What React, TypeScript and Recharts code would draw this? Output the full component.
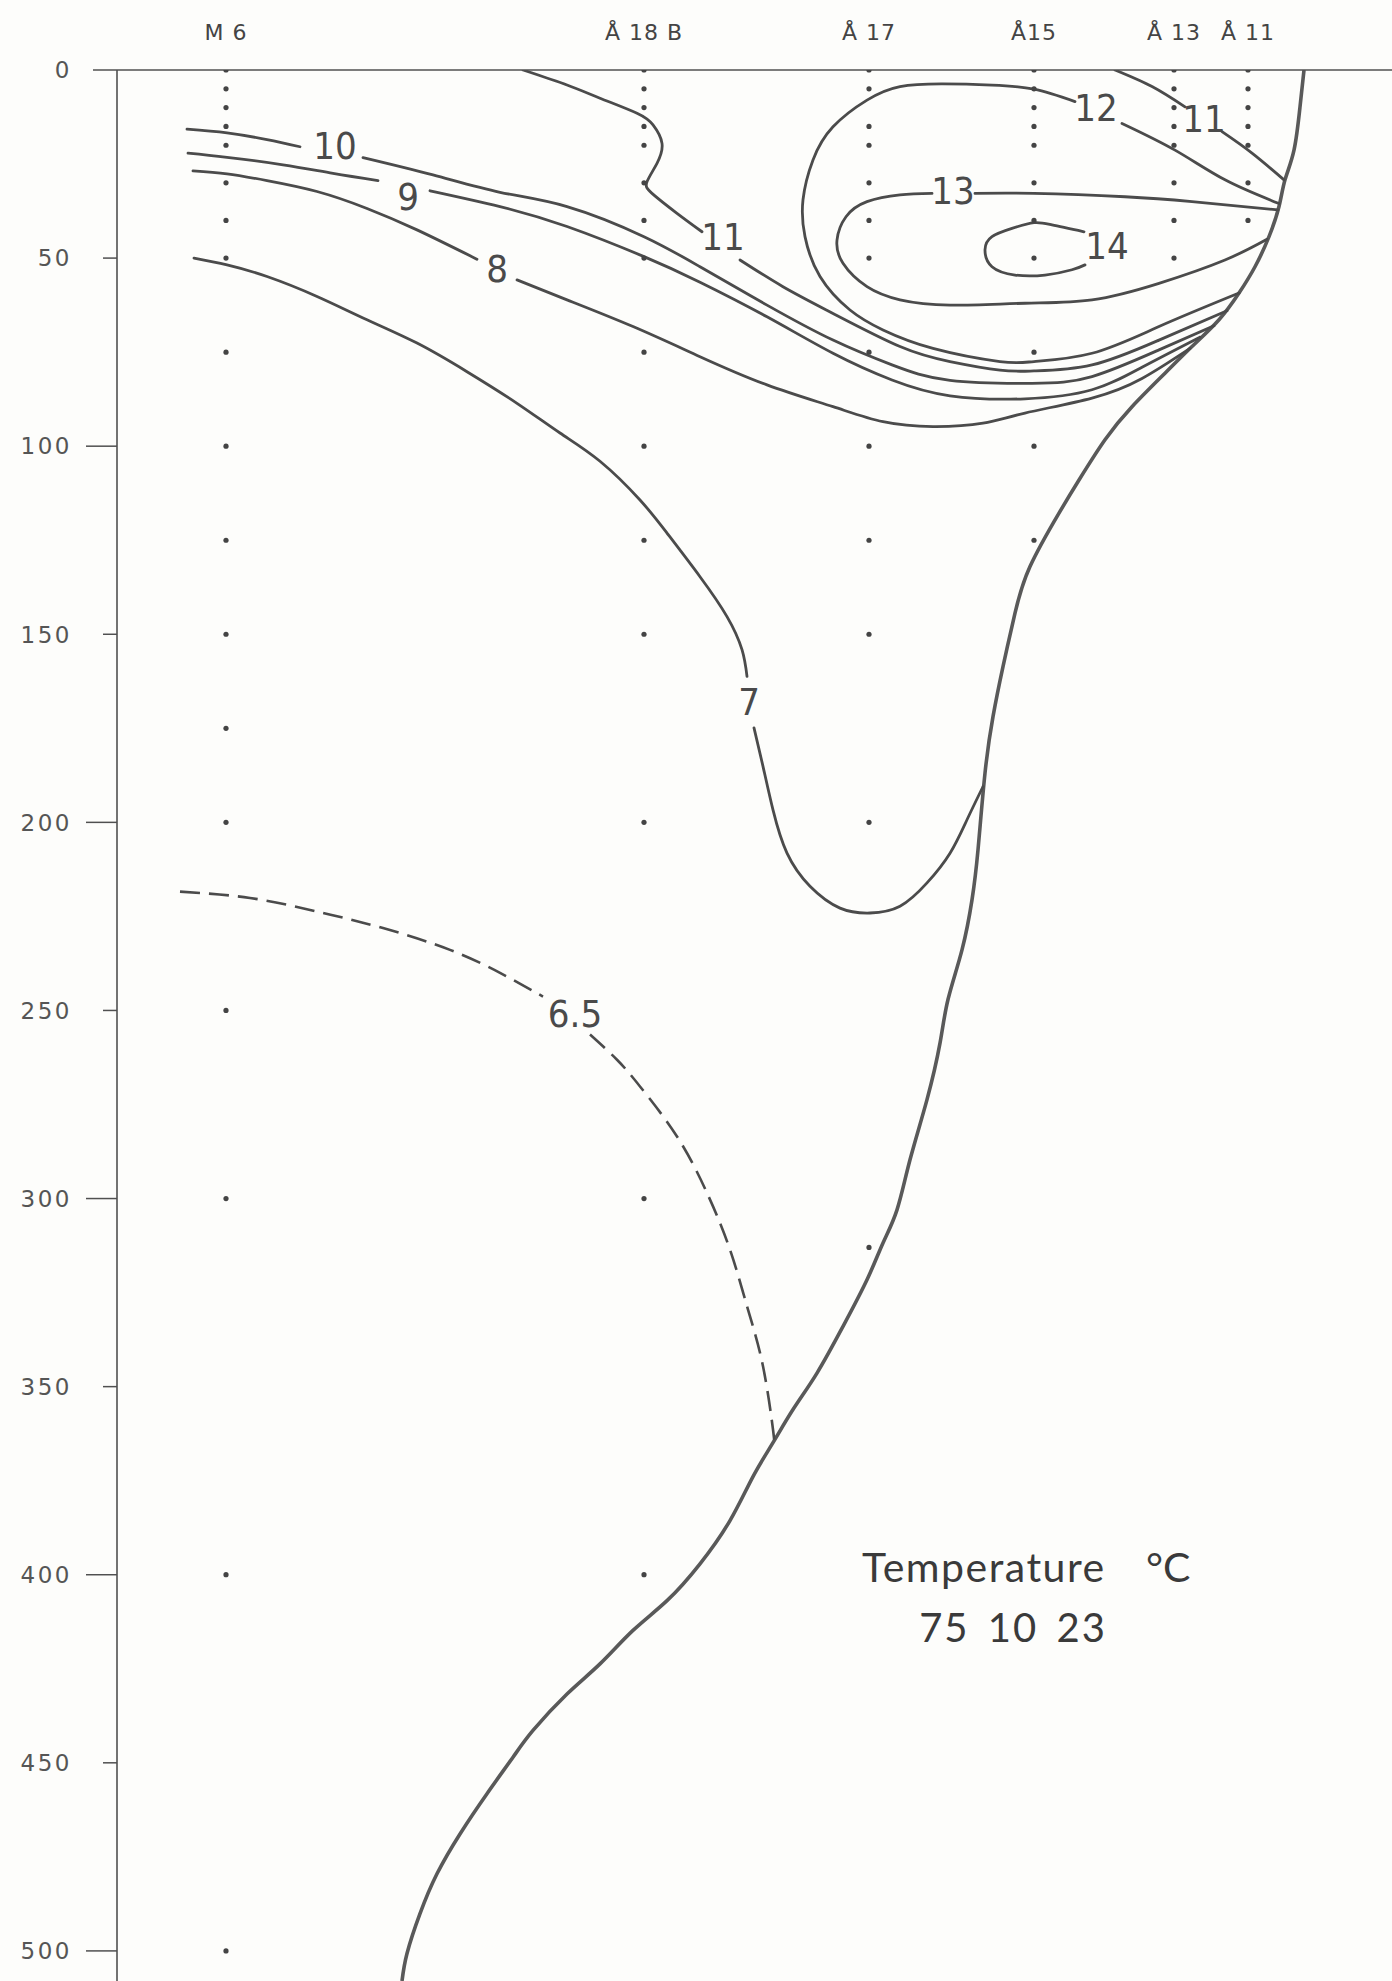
import { ComposedChart, Line, Scatter, XAxis, YAxis } from 'recharts';

// station positions (km along section) and names
const STATION_NAMES = ['M 6', 'Å 18 B', 'Å 17', 'Å15', 'Å 13', 'Å 11'];
const STATION_X = [10.9, 52.7, 75.2, 91.7, 105.7, 113.1];
const STATION_DEPTHS = [
  [0, 5, 10, 15, 20, 30, 40, 50, 75, 100, 125, 150, 175, 200, 250, 300, 400, 500],
  [0, 5, 10, 15, 20, 30, 40, 50, 75, 100, 125, 150, 200, 300, 400],
  [0, 5, 15, 20, 30, 40, 50, 75, 100, 125, 150, 200, 313],
  [0, 5, 10, 15, 20, 30, 40, 50, 75, 100, 125],
  [0, 5, 10, 15, 20, 30, 40, 50],
  [0, 5, 10, 15, 20, 30, 40],
];
const DEPTH_TICKS = [0, 50, 100, 150, 200, 250, 300, 350, 400, 450, 500];

// sea floor
const BOTTOM = [
  [118.7, 0], [118.3, 9.8], [117.7, 21.3], [116.8, 29.2], [116.2, 36.3], [115.2, 44.3], [113.8, 52.3],
  [112.2, 59.3], [110.2, 66.4], [107.5, 73.5], [104.8, 80.6], [101.5, 89.5], [98.8, 98.3], [96.2, 109],
  [94.2, 117.8], [91.3, 132], [89.8, 144.4], [88.6, 158.6], [87.6, 171.9], [86.8, 186.9], [86.1, 207.3],
  [85.5, 220.6], [84.5, 233.9], [83.1, 247.1], [82.3, 258.7], [81, 273.7], [79.3, 289.7], [78, 303],
  [76.6, 311.8], [75, 321.6], [72.6, 334], [70, 346.4], [67.6, 356.1], [65.6, 364.9], [63.6, 373.9],
  [61.3, 385.6], [58.3, 397.1], [55, 406.9], [51.6, 414.8], [48.3, 423.7], [45, 431.7], [41.6, 441.4],
  [39.6, 448.5], [37, 458.2], [34.3, 468.9], [32, 479.5], [30.3, 490.1], [29, 500.7], [28.5, 508],
];

// isotherms, split where the label sits
const T14 = [
  [96.7, 43], [93.5, 41.2], [91.7, 40.6], [89.5, 42.1], [87.5, 44.3], [86.8, 47.8], [87.5, 52.3],
  [89.8, 54.5], [92.8, 54.5], [95.5, 53.1], [96.8, 51.8],
];
const T13_A = [
  [81.5, 32.8], [78.3, 33.2], [75, 35], [72.9, 39], [72, 45.2], [72.6, 51.4], [75, 57.6], [78.3, 61.1],
  [83.3, 62.5], [90.8, 62], [97.5, 61.1], [104.2, 56.7], [110.8, 50.5], [115, 45],
];
const T13_B = [[85.8, 32.8], [91.7, 32.8], [100.8, 33.7], [107.5, 35], [116.1, 37.2]];
const T12_A = [
  [95.8, 8.4], [91.7, 5.1], [87.5, 4], [82.6, 3.7], [78.3, 4.4], [75, 8], [71.6, 15.1], [69.6, 23.9],
  [68.6, 34.5], [68.8, 44.3], [70.3, 54.9], [73.3, 63.8], [76.6, 69.1], [81.6, 74], [88.3, 77.5],
  [91.7, 77.5], [97.5, 75.3], [104.2, 68.2], [112.2, 59.3],
];
const T12_B = [[100.5, 14.2], [105.8, 21.3], [110.8, 29.2], [116.2, 35.5]];
const T11E_A = [[99.8, 0], [103.5, 4.4], [106.8, 9.8]];
const T11E_B = [[110.5, 16.4], [113.5, 22.1], [116.7, 29.2]];
const T11W_A = [
  [40.6, 0], [45, 4], [48.3, 7.5], [52, 11.5], [53.6, 14.6], [54.5, 19.5], [54, 24.8], [53, 29.7],
  [53.5, 32.8], [56, 38.1], [58.5, 43],
];
const T11W_B = [
  [62.3, 50.5], [66.6, 57.6], [71.6, 64.7], [78.3, 73.5], [83.3, 77.5], [88.3, 79.8], [91.7, 80],
  [97.5, 78.4], [104.2, 71.8], [111, 64],
];
const T10_A = [[7, 15.7], [11, 16.7], [15, 18.5], [18.3, 20.4]];
const T10_B = [
  [24.6, 23.3], [31.6, 27.9], [38.3, 32.5], [45, 36.3], [52.7, 44.3], [58.3, 52.3], [65, 62.5],
  [71.6, 71.8], [77.5, 78.4], [83.3, 82.5], [91.5, 83.3], [97.5, 81.5], [104.2, 74.4], [109.7, 68],
];
const T9_A = [[7.1, 22.1], [11, 23.2], [16.6, 25.2], [21.6, 27.5], [26.1, 29.4]];
const T9_B = [
  [31.3, 32.1], [38.3, 36.3], [45, 41.6], [52.7, 49.6], [58.3, 56.4], [65, 65.6], [71.6, 75.3],
  [77.5, 82.4], [83.3, 86.6], [90.8, 87.4], [97.5, 85], [102.5, 79], [108.3, 71],
];
const T8_A = [[7.6, 26.8], [11, 27.6], [15, 29.4], [20, 32.3], [25, 36.8], [30, 42.5], [36, 50.3]];
const T8_B = [
  [40, 55.8], [45, 61.1], [51.6, 68.2], [58.3, 76.2], [65, 83.7], [71.6, 89.5], [76.6, 93.5],
  [81.6, 94.8], [86.6, 93.9], [90.8, 91.2], [97.5, 87.2], [102.5, 82], [107.3, 74],
];
const T7_A = [
  [7.7, 50], [11, 51.8], [15, 54.9], [20, 60.2], [25, 66.4], [30, 72.6], [35, 80.2], [40, 88.6],
  [44.3, 96.5], [48.3, 104], [52.3, 114.3], [55, 123.1], [58.3, 134.7], [61, 145.3], [62.5, 154.1],
  [63, 161.2],
];
const T7_B = [
  [63.7, 174.9], [64.6, 185.1], [65.6, 196.7], [67, 208.2], [69.3, 217], [72.3, 222.8], [75.3, 224.1],
  [78.3, 222.3], [81, 216.1], [83.3, 208.2], [85, 199.3], [86.6, 190.5],
];
const T65_A = [[6.3, 218.4], [13.3, 220.1], [20, 223.7], [26.6, 228.1], [33.3, 233.9], [38.3, 240], [42.6, 246.3]];
const T65_B = [
  [47.3, 256.4], [50, 263.1], [52.3, 270.2], [56, 283.5], [59, 298.5], [61.3, 313.6], [63.1, 329.5],
  [64.6, 344.6], [65.6, 361.4], [65.7, 365],
];

const LABELS = [
  { x: 21.8, d: 19.9, t: '10' },
  { x: 29.1, d: 33.7, t: '9' },
  { x: 38, d: 52.7, t: '8' },
  { x: 60.6, d: 44.3, t: '11' },
  { x: 97.9, d: 9.8, t: '12' },
  { x: 108.7, d: 12.8, t: '11' },
  { x: 83.6, d: 31.9, t: '13' },
  { x: 99, d: 46.5, t: '14' },
  { x: 63.2, d: 167.9, t: '7' },
  { x: 45.8, d: 250.7, t: '6.5' },
];

const SOLID = [T14, T13_A, T13_B, T12_A, T12_B, T11E_A, T11E_B, T11W_A, T11W_B, T10_A, T10_B, T9_A, T9_B, T8_A, T8_B, T7_A, T7_B];
const DASHED = [T65_A, T65_B];

const INK = '#4b4b4b';
const AXIS = '#505050';
const NARROW = "'Liberation Sans Narrow', 'DejaVu Sans Condensed', sans-serif";

const pts = (a: number[][]) => a.map(([x, d]) => ({ x, d }));
const samples = STATION_X.flatMap((x, i) => STATION_DEPTHS[i].map((d) => ({ x, d })));

function DepthTick(props: any) {
  const { x, y, payload } = props;
  const v = payload.value;
  const len = v === 0 ? 24 : v % 100 === 0 ? 31 : 14;
  return (
    <g>
      <line x1={x - len} x2={x} y1={y} y2={y} stroke={AXIS} strokeWidth={1.5} />
      <text x={x - 45} y={y} dy="0.36em" textAnchor="end" fontFamily="'DejaVu Sans', sans-serif" fontSize={23} letterSpacing={2.5} fill="#555">
        {v}
      </text>
    </g>
  );
}

function StationTick(props: any) {
  const { x, payload } = props;
  const i = STATION_X.indexOf(payload.value);
  return (
    <text x={x} y={40} textAnchor="middle" fontFamily="'DejaVu Sans', sans-serif" fontSize={22} letterSpacing={1} fill="#444">
      {STATION_NAMES[i]}
    </text>
  );
}

const LabelShape = (p: any) => (
  <text x={p.cx} y={p.cy} dy="0.36em" textAnchor="middle" fontFamily={NARROW} fontSize={38} fill="#4a4a4a">
    {p.payload.t}
  </text>
);

const DotShape = (p: any) => <circle cx={p.cx} cy={p.cy} r={2.6} fill="#444" />;

export default function App() {
  return (
    <div style={{ position: 'absolute', left: 0, top: 0, width: 1392, height: 1981, background: '#fdfdfb' }}>
      <ComposedChart width={1392} height={1981} margin={{ top: 0, right: 0, bottom: 0, left: 0 }}>
        <XAxis
          xAxisId={0}
          type="number"
          dataKey="x"
          orientation="top"
          height={70}
          domain={[0, 127.5]}
          allowDataOverflow
          ticks={STATION_X}
          interval={0}
          tickSize={0}
          tickMargin={0}
          tickLine={false}
          tick={<StationTick />}
          axisLine={{ stroke: AXIS, strokeWidth: 1.5 }}
        />
        <YAxis
          type="number"
          dataKey="d"
          width={117}
          reversed
          domain={[0, 508]}
          allowDataOverflow
          ticks={DEPTH_TICKS}
          interval={0}
          tickSize={0}
          tickMargin={0}
          tickLine={false}
          tick={<DepthTick />}
          axisLine={{ stroke: AXIS, strokeWidth: 1.6 }}
        />
        <Scatter data={samples} dataKey="d" shape={DotShape} isAnimationActive={false} />
        <Line
          data={pts(BOTTOM)}
          dataKey="d"
          type="natural"
          stroke="#595959"
          strokeWidth={3.6}
          dot={false}
          activeDot={false}
          isAnimationActive={false}
        />
        {SOLID.map((s, i) => (
          <Line
            key={'s' + i}
            data={pts(s)}
            dataKey="d"
            type="natural"
            stroke={INK}
            strokeWidth={2.8}
            strokeLinecap="round"
            dot={false}
            activeDot={false}
            isAnimationActive={false}
          />
        ))}
        {DASHED.map((s, i) => (
          <Line
            key={'d' + i}
            data={pts(s)}
            dataKey="d"
            type="natural"
            stroke={INK}
            strokeWidth={2.6}
            strokeDasharray="20 9"
            dot={false}
            activeDot={false}
            isAnimationActive={false}
          />
        ))}
        <Scatter data={LABELS} dataKey="d" shape={LabelShape} isAnimationActive={false} />
      </ComposedChart>
      <svg width={1392} height={1981} style={{ position: 'absolute', left: 0, top: 0, pointerEvents: 'none' }}>
        <g fontFamily="Lato, 'DejaVu Sans', sans-serif" fill="#3a3a3a">
          <text x={862} y={1582} fontSize={41} letterSpacing={1.5}>Temperature</text>
          <text x={1146} y={1582} fontSize={41}>°C</text>
          <text x={1013} y={1642} fontSize={40} textAnchor="middle" letterSpacing={2} wordSpacing={6}>75 10 23</text>
        </g>
      </svg>
    </div>
  );
}
